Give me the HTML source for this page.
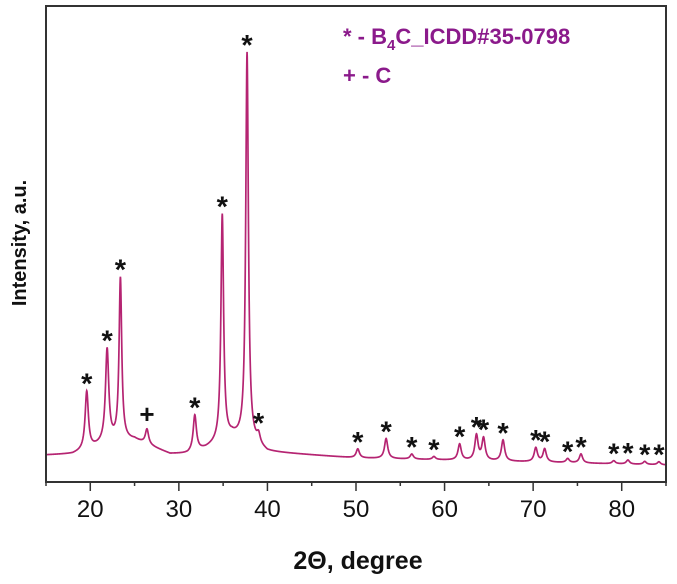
<!DOCTYPE html>
<html><head><meta charset="utf-8"><style>
body{margin:0;background:#fff;}
svg{display:block;font-family:"Liberation Sans",Arial,sans-serif;}
</style></head><body>
<svg id="chart" width="677" height="584" viewBox="0 0 677 584" xmlns="http://www.w3.org/2000/svg">
<g id="plot"></g>
</svg>
<script>
const peakPos = [19.6,21.9,23.4,26.4,31.8,34.9,37.7,39.0,50.2,53.4,56.3,58.8,61.7,63.6,64.4,66.6,70.3,71.3,73.9,75.4,79.1,80.7,82.6,84.2];
const peakHeight = [58,92,162,15,36,226,388,9,9,20,5,3,16,25,22,21,14,13,4,9,3,4,3,3];
const peakMark = ["*","*","*","+","*","*","*","*","*","*","*","*","*","*","*","*","*","*","*","*","*","*","*","*"];
const bgX = [15,18,20,22,25,27,29,31,33,36,38,40,45,50,60,70,80,85];
const bgY = [27,28,33,40,42,35,28,28,33,45,40,30,27,24,22,20,18,17];
const xTicks = [20,30,40,50,60,70,80];

const L=46,R=666,T=6,B=482;
const sx=v=>L+(v-15)/70*(R-L);
const sy=v=>B-v;
const NS="http://www.w3.org/2000/svg";
const svg=document.getElementById('chart');
function mk(tag,attrs,parent){const e=document.createElementNS(NS,tag);for(const k in attrs)e.setAttribute(k,attrs[k]);(parent||svg).appendChild(e);return e;}
function bg(x){for(let i=0;i<bgX.length-1;i++){if(x<=bgX[i+1]){const t=(x-bgX[i])/(bgX[i+1]-bgX[i]);return bgY[i]+t*(bgY[i+1]-bgY[i]);}}return bgY[bgY.length-1];}
function inten(x){let s=bg(x);for(let i=0;i<peakPos.length;i++){const w=peakHeight[i]>100?0.18:0.22;const d=(x-peakPos[i])/w;s+=peakHeight[i]/(1+d*d);}return s;}
let d="";
for(let x=15;x<=85;x+=0.02){d+=(d?"L":"M")+sx(x).toFixed(2)+","+sy(inten(x)).toFixed(2);}
const line=mk('path',{d:d,fill:'none',stroke:'#b52472','stroke-width':1.7});


for(let i=0;i<peakPos.length;i++){
  const t=mk('text',{x:sx(peakPos[i]),y:sy(inten(peakPos[i]))-(peakMark[i]=="+"?6:-3),'text-anchor':'middle','font-size':peakMark[i]=="+"?26:29,'font-weight':'bold',fill:'#111'});
  t.textContent=peakMark[i];
  
  
}
const frame=mk('rect',{x:L,y:T,width:R-L,height:B-T,fill:'none',stroke:'#333','stroke-width':2});


for(let v=15;v<=85;v+=5){
  const major=v%10==0;
  const tk=mk('line',{x1:sx(v),x2:sx(v),y1:B,y2:B+(major?9:4),stroke:'#333','stroke-width':1.5});
  
  
}
xTicks.forEach(v=>{
  const t=mk('text',{x:sx(v),y:517,'text-anchor':'middle','font-size':24,fill:'#111'});
  t.textContent=v;
  
  
});
const xl=mk('text',{x:358,y:569,'text-anchor':'middle','font-size':25,'font-weight':'bold',fill:'#111'});
xl.textContent="2Θ, degree";


const yl=mk('text',{x:0,y:0,transform:'translate(26,243) rotate(-90)','text-anchor':'middle','font-size':20,'font-weight':'bold',fill:'#111'});
yl.textContent="Intensity, a.u.";


const lg1=mk('text',{x:343,y:44,'font-size':22,'font-weight':'bold',fill:'#8b1a8b'});
lg1.innerHTML='* - B<tspan font-size="15" dy="6">4</tspan><tspan dy="-6">C_ICDD#35-0798</tspan>';


const lg2=mk('text',{x:343,y:83,'font-size':22,'font-weight':'bold',fill:'#8b1a8b'});
lg2.textContent='+ - C';


</script>
</body></html>
